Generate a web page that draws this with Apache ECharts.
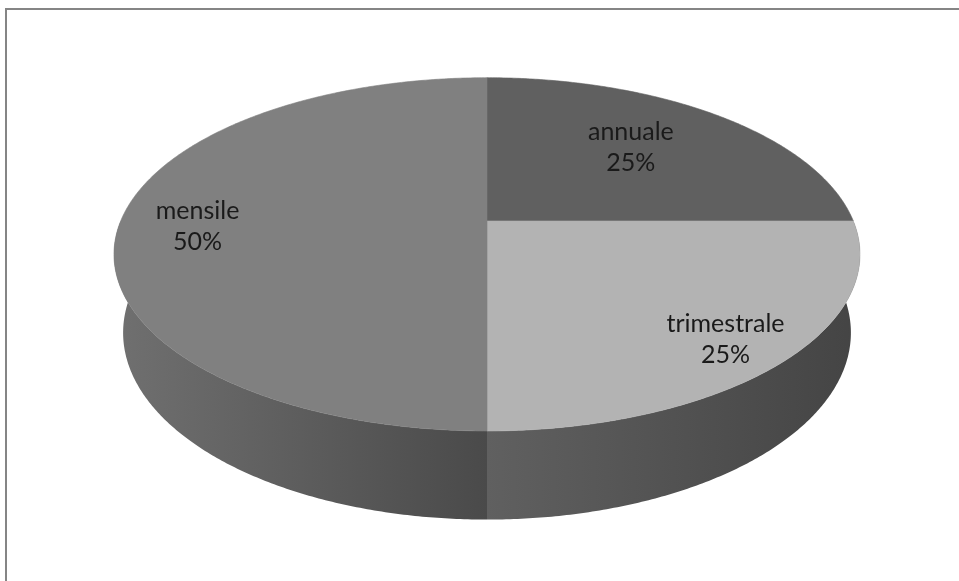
<!DOCTYPE html>
<html>
<head>
<meta charset="utf-8">
<script src="https://cdn.jsdelivr.net/npm/echarts@6/dist/echarts.min.js"></script>
<style>
  html, body { margin: 0; padding: 0; background: #ffffff; }
  #main { width: 959px; height: 581px; }
</style>
</head>
<body>
<div id="main"></div>
<script>
// Frequenza dei pagamenti
const categories = ['annuale', 'trimestrale', 'mensile'];
const values = [25, 25, 50];

// Slice appearance: top face colour and side-wall gradient (left -> right)
const TOP_COLORS = ['#606060', '#b3b3b3', '#808080'];
const WALL_COLORS = [
  ['#5a5a5a', '#404040'],
  ['#606060', '#444444'],
  ['#707070', '#4a4a4a']
];
// Label placement along the slice bisector (fraction of radius) and vertical nudge
const LABEL_R = [0.6, 0.82, 0.79];
const LABEL_DY = [-7, 8, 5];

// Perspective camera for the tilted disc
const CX = 487, CY = 221;     // projected centre of the top face
const F = 1718, D = 4.69;     // focal length (px) and camera distance (radii)
const TILT = Math.asin(0.465);
const SA = Math.sin(TILT), CA = Math.cos(TILT);
const H = 0.244;              // disc thickness (radii)

// theta: clockwise from the far side; r: radius fraction; w: height
function proj(theta, r, w) {
  const u = r * Math.sin(theta);
  const v = r * Math.cos(theta);
  const depth = D + v * CA - w * SA;
  const up = v * SA + w * CA;
  return [CX + F * u / depth, CY - F * up / depth];
}

function arc(a0, a1, w) {
  const pts = [];
  const n = Math.max(2, Math.ceil((a1 - a0) / (Math.PI / 360)));
  for (let k = 0; k <= n; k++) {
    pts.push(proj(a0 + (a1 - a0) * k / n, 1, w));
  }
  return pts;
}

const total = values.reduce((a, b) => a + b, 0);
const starts = [];
values.reduce((acc, v) => { starts.push(acc); return acc + v; }, 0);

function renderItem(params, api) {
  const i = params.dataIndex;
  const val = api.value(0);
  const a0 = starts[i] / total * Math.PI * 2;
  const a1 = (starts[i] + val) / total * Math.PI * 2;
  const children = [];

  // side wall (only the front half can be seen)
  const lo = Math.max(a0, Math.PI / 2);
  const hi = Math.min(a1, Math.PI * 3 / 2);
  if (hi > lo) {
    const topEdge = arc(lo, hi, 0);
    const botEdge = arc(lo, hi, -H).reverse();
    const pts = topEdge.concat(botEdge);
    const xs = pts.map(p => p[0]);
    const x0 = Math.min.apply(null, xs), x1 = Math.max.apply(null, xs);
    const grad = new echarts.graphic.LinearGradient(x0, 0, x1, 0, [
      { offset: 0, color: WALL_COLORS[i][0] },
      { offset: 1, color: WALL_COLORS[i][1] }
    ], true);
    children.push({
      type: 'polygon',
      z2: 1,
      shape: { points: pts },
      style: { fill: grad, stroke: null }
    });
  }

  // top face
  const facePts = [proj(0, 0, 0)].concat(arc(a0, a1, 0));
  children.push({
    type: 'polygon',
    z2: 10,
    shape: { points: facePts },
    style: { fill: TOP_COLORS[i], stroke: TOP_COLORS[i], lineWidth: 0.6 }
  });

  // label: name and percentage
  const mid = (a0 + a1) / 2;
  const lp = proj(mid, LABEL_R[i], 0);
  const pct = Math.round(val / total * 100) + '%';
  children.push({
    type: 'text',
    z2: 20,
    x: lp[0],
    y: lp[1] + LABEL_DY[i],
    style: {
      text: categories[i] + '\n' + pct,
      fill: '#1a1a1a',
      font: '25px Lato',
      align: 'center',
      verticalAlign: 'middle',
      lineHeight: 31
    }
  });

  return { type: 'group', children: children };
}

const chart = echarts.init(document.getElementById('main'), null, { renderer: 'canvas' });
chart.setOption({
  backgroundColor: '#ffffff',
  animation: false,
  graphic: [{
    type: 'rect',
    shape: { x: 6, y: 9, width: 1000, height: 700 },
    style: { fill: null, stroke: '#858585', lineWidth: 2 },
    silent: true
  }],
  series: [{
    type: 'custom',
    coordinateSystem: 'none',
    renderItem: renderItem,
    silent: true,
    data: categories.map((c, i) => ({ name: c, value: [values[i]] }))
  }]
});
</script>
</body>
</html>
